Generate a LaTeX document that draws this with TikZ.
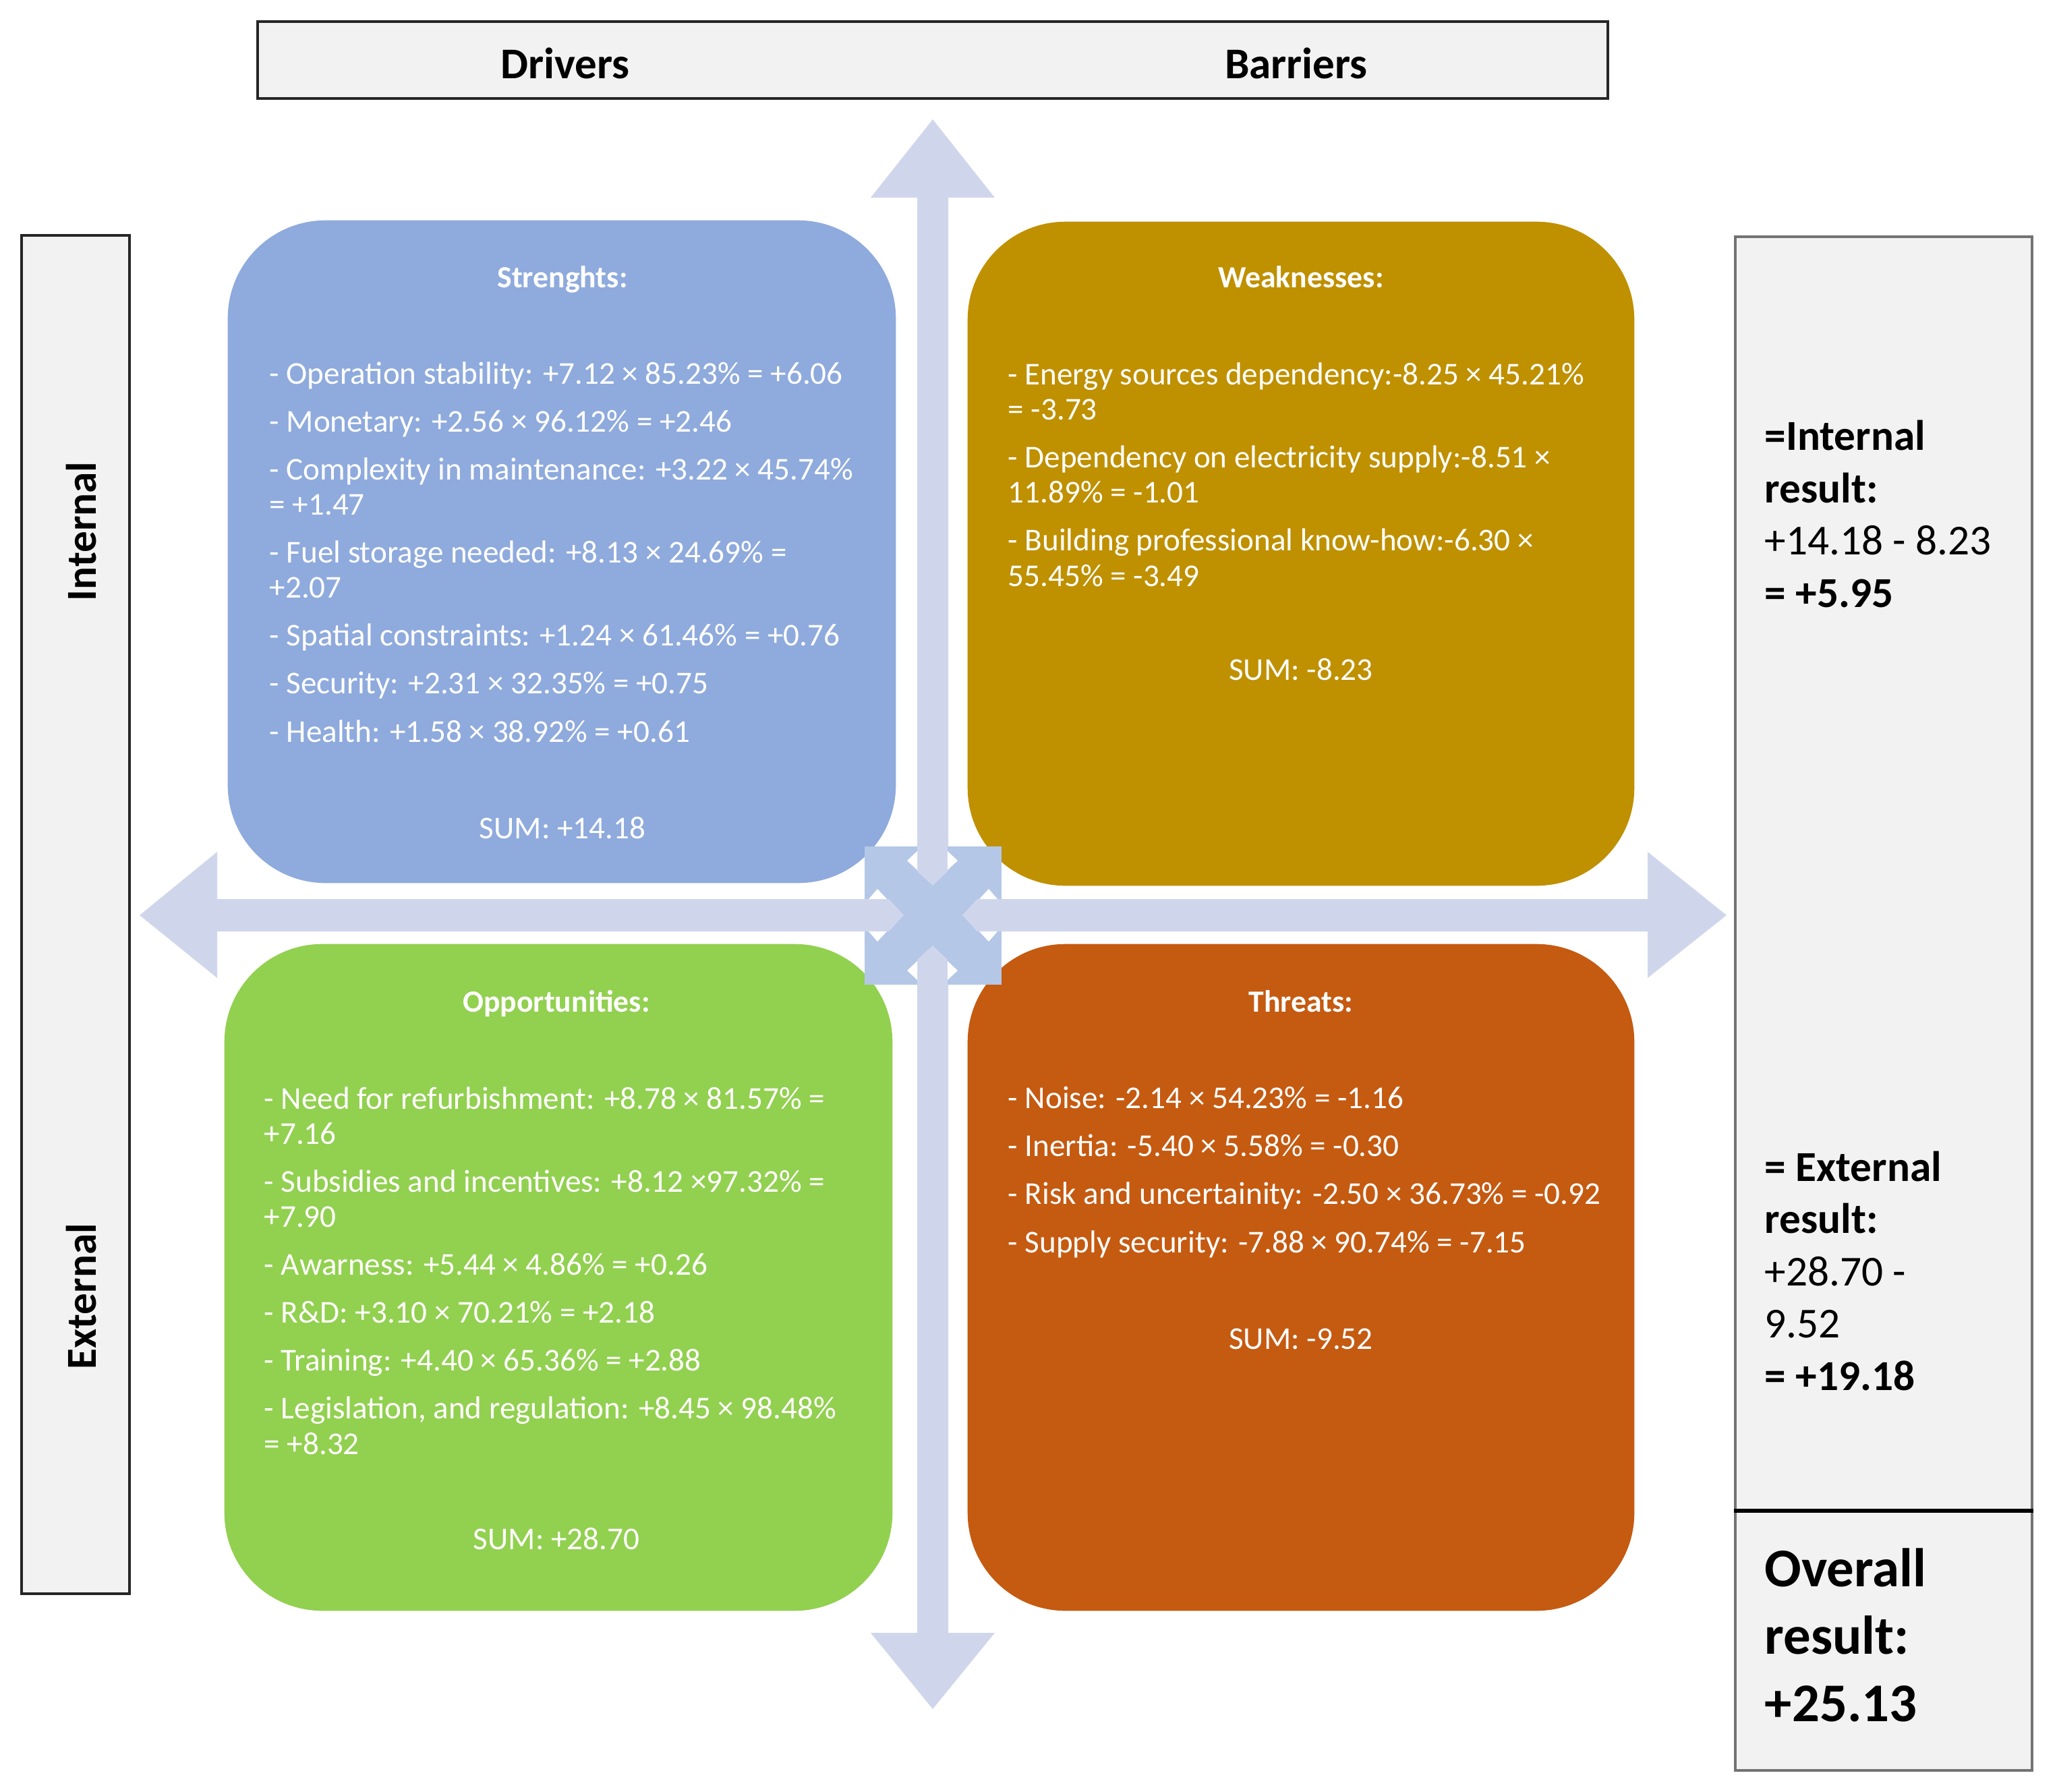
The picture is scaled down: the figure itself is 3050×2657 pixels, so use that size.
\documentclass[tikz,border=0pt]{standalone}
\usepackage{fontspec}
\setmainfont{Carlito}
\definecolor{fuerza}{HTML}{8FAADC}
\definecolor{debil}{HTML}{BF9000}
\definecolor{oport}{HTML}{92D050}
\definecolor{amenaza}{HTML}{C55A11}
\definecolor{flecha}{HTML}{CFD6EC}
\definecolor{centro}{HTML}{B4C7E7}
\definecolor{panel}{HTML}{F2F2F2}
\newcommand{\salto}{\\[0.19cm]}
\begin{document}
\begin{tikzpicture}[x=0.01cm, y=-0.01cm,
  cuadro/.style={rounded corners=1.45cm, inner sep=0pt},
  titulo/.style={white, anchor=base, font=\bfseries\fontsize{13}{15}\selectfont},
  lista/.style={white, anchor=base west, align=left, inner sep=0pt,
    font=\fontsize{13.4}{14.8}\selectfont},
  suma/.style={white, anchor=base, font=\fontsize{13.4}{15}\selectfont},
  caja/.style={draw=black!85, fill=panel, line width=1.1pt, inner sep=0pt},
  resul/.style={anchor=base west, align=left, inner sep=0pt,
    font=\fontsize{18}{22}\selectfont}]
  \useasboundingbox (0,0) rectangle (3050,2657);
  % Encabezado y paneles laterales
  \node[caja, minimum width=20cm, minimum height=1.14cm] (cab) at (1383,89) {};
  \node[anchor=base, font=\bfseries\fontsize{18.5}{22}\selectfont] (drv) at (838,116) {Drivers};
  \node[anchor=base, font=\bfseries\fontsize{18.5}{22}\selectfont] (bar) at (1922,116) {Barriers};
  \node[caja, minimum width=1.6cm, minimum height=20.13cm] (izq) at (112,1356) {};
  \node[rotate=90, font=\bfseries\fontsize{18}{22}\selectfont] (int) at (121,788) {Internal};
  \node[rotate=90, font=\bfseries\fontsize{18}{22}\selectfont] (ext) at (121,1922) {External};
  \node[caja, draw=black!55, minimum width=4.4cm, minimum height=22.73cm] (res) at (2793,1488) {};
  \coordinate (corte) at (0,2240);
  \draw[line width=1.6pt] (res.west |- corte) -- (res.east |- corte);
  % Flechas de los ejes
  \fill[flecha] (1383,177) -- (1475,293) -- (1406,293) -- (1406,2421) -- (1475,2421)
    -- (1383,2534) -- (1291,2421) -- (1360,2421) -- (1360,293) -- (1291,293) -- cycle;
  \fill[flecha] (207,1357) -- (322,1263) -- (322,1333) -- (2443,1333) -- (2443,1263)
    -- (2560,1357) -- (2443,1450) -- (2443,1381) -- (322,1381) -- (322,1450) -- cycle;
  % Cuadrantes
  \node[cuadro, fill=fuerza, minimum width=9.9cm, minimum height=9.82cm] (str) at (833,818) {};
  \node[cuadro, fill=debil, minimum width=9.88cm, minimum height=9.84cm] (wea) at (1929,821) {};
  \node[cuadro, fill=oport, minimum width=9.9cm, minimum height=9.88cm] (opp) at (828,1894) {};
  \node[cuadro, fill=amenaza, minimum width=9.88cm, minimum height=9.88cm] (thr) at (1929,1894) {};
  % Cruz central
  \fill[centro] (1282,1255) rectangle (1485,1460);
  \fill[flecha] (1360,1255) -- (1405,1255) -- (1405,1292) -- (1383,1313) -- (1360,1292) -- cycle;
  \fill[flecha] (1360,1460) -- (1405,1460) -- (1405,1423) -- (1383,1402) -- (1360,1423) -- cycle;
  \fill[flecha] (1282,1333) -- (1282,1381) -- (1318,1381) -- (1340,1357) -- (1318,1333) -- cycle;
  \fill[flecha] (1485,1333) -- (1485,1381) -- (1449,1381) -- (1427,1357) -- (1449,1333) -- cycle;
  \fill[white] (1360,1262) -- (1360,1290) -- (1345,1276) -- cycle;
  \fill[white] (1405,1262) -- (1405,1290) -- (1420,1276) -- cycle;
  \fill[white] (1360,1425) -- (1360,1453) -- (1345,1439) -- cycle;
  \fill[white] (1405,1425) -- (1405,1453) -- (1420,1439) -- cycle;
  \fill[white] (1288,1333) -- (1315,1333) -- (1301,1318) -- cycle;
  \fill[white] (1288,1381) -- (1315,1381) -- (1301,1396) -- cycle;
  \fill[white] (1452,1333) -- (1479,1333) -- (1466,1318) -- cycle;
  \fill[white] (1452,1381) -- (1479,1381) -- (1466,1396) -- cycle;
  % Textos: fortalezas
  \node[titulo] (strT) at (834,426) {Strenghts:};
  \node[lista] (strL) at (399,1100) {- Operation stability: +7.12 × 85.23\% = +6.06\salto
    - Monetary: +2.56 × 96.12\% = +2.46\salto
    - Complexity in maintenance: +3.22 × 45.74\%\\= +1.47\salto
    - Fuel storage needed: +8.13 × 24.69\% =\\+2.07\salto
    - Spatial constraints: +1.24 × 61.46\% = +0.76\salto
    - Security: +2.31 × 32.35\% = +0.75\salto
    - Health: +1.58 × 38.92\% = +0.61};
  \node[suma] (strS) at (834,1243) {SUM: +14.18};
  % Textos: debilidades
  \node[titulo] (weaT) at (1929,426) {Weaknesses:};
  \node[lista] (weaL) at (1494,869) {- Energy sources dependency:-8.25 × 45.21\%\\= -3.73\salto
    - Dependency on electricity supply:-8.51 ×\\11.89\% = -1.01\salto
    - Building professional know-how:-6.30 ×\\55.45\% = -3.49};
  \node[suma] (weaS) at (1929,1008) {SUM: -8.23};
  % Textos: oportunidades
  \node[titulo] (oppT) at (825,1500) {Opportunities:};
  \node[lista] (oppL) at (391,2156) {- Need for refurbishment: +8.78 × 81.57\% =\\+7.16\salto
    - Subsidies and incentives: +8.12 ×97.32\% =\\+7.90\salto
    - Awarness: +5.44 × 4.86\% = +0.26\salto
    - R\&D: +3.10 × 70.21\% = +2.18\salto
    - Training: +4.40 × 65.36\% = +2.88\salto
    - Legislation, and regulation: +8.45 × 98.48\%\\= +8.32};
  \node[suma] (oppS) at (825,2297) {SUM: +28.70};
  % Textos: amenazas
  \node[titulo] (thrT) at (1929,1500) {Threats:};
  \node[lista] (thrL) at (1494,1857) {- Noise: -2.14 × 54.23\% = -1.16\salto
    - Inertia: -5.40 × 5.58\% = -0.30\salto
    - Risk and uncertainity: -2.50 × 36.73\% = -0.92\salto
    - Supply security: -7.88 × 90.74\% = -7.15};
  \node[suma] (thrS) at (1929,2000) {SUM: -9.52};
  % Resultados
  \node[resul] (intR) at (2616,900) {\textbf{=Internal}\\\textbf{result:}\\+14.18 - 8.23\\\textbf{= +5.95}};
  \node[resul] (extR) at (2616,2061) {\textbf{= External}\\\textbf{result:}\\+28.70 -\\9.52\\\textbf{= +19.18}};
  \node[resul, font=\bfseries\fontsize{23}{28.4}\selectfont] (totR) at (2616,2552)
    {Overall\\result:\\+25.13};
\end{tikzpicture}
\end{document}
